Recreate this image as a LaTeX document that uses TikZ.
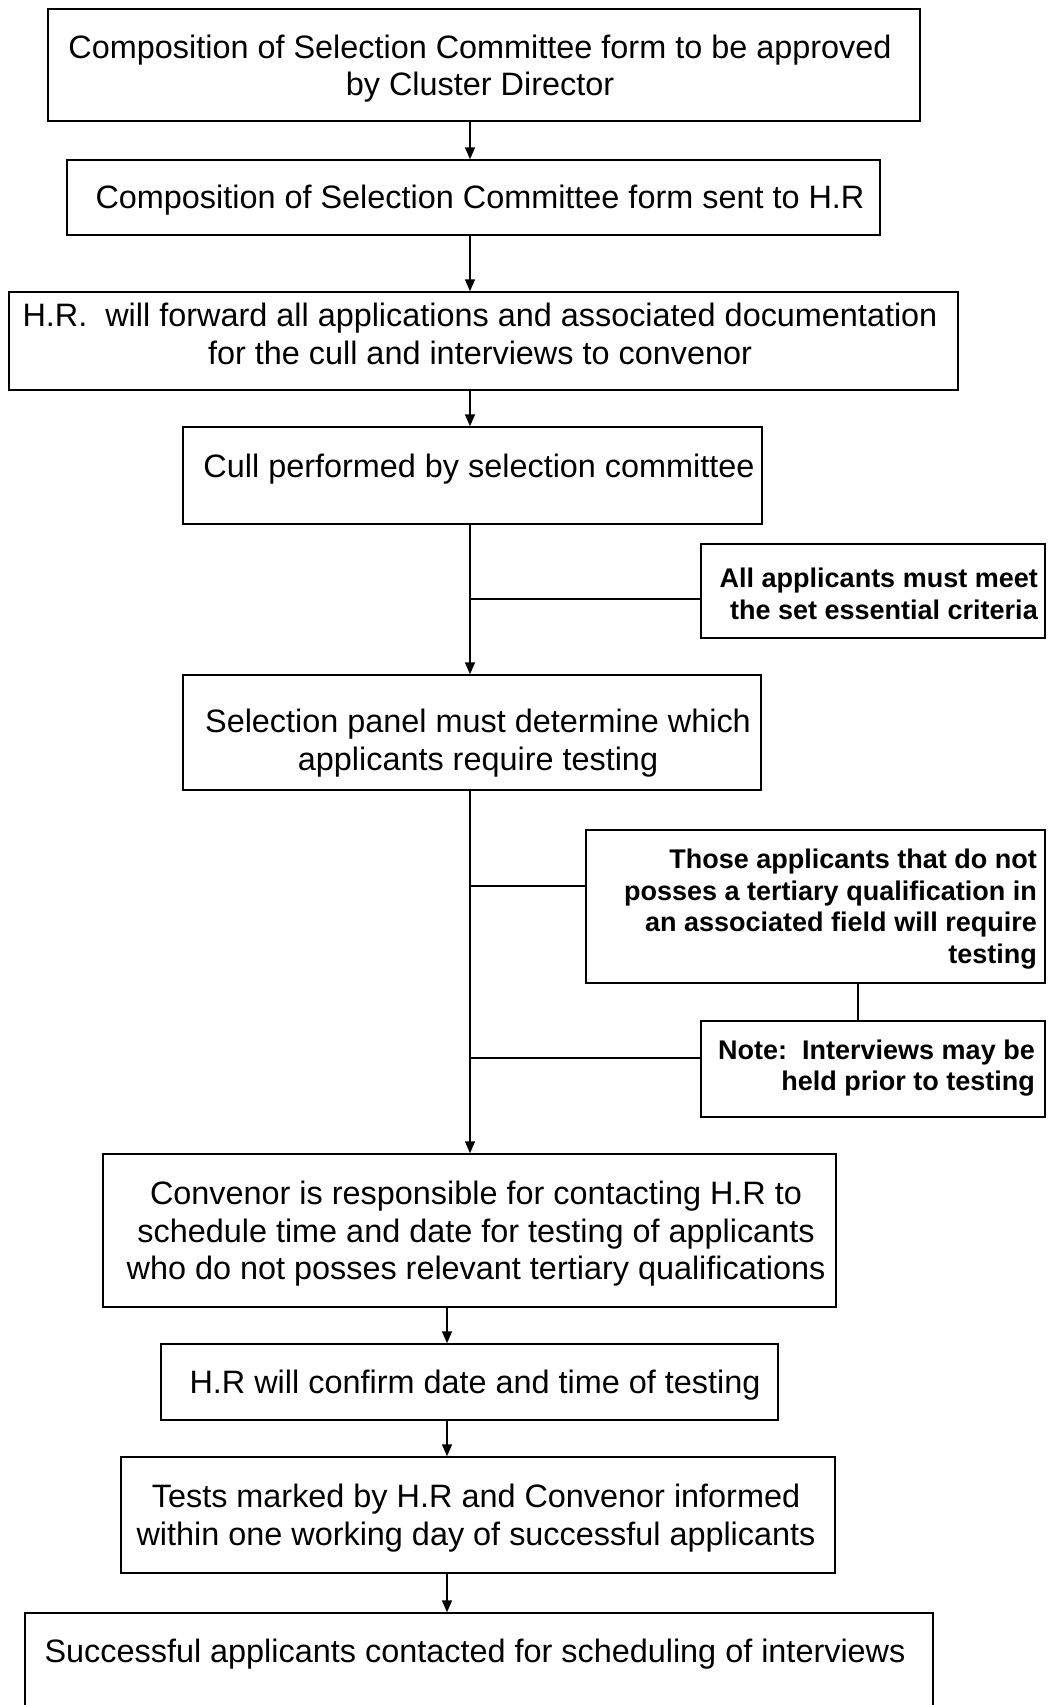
\documentclass[tikz,border=0pt]{standalone}
\usepackage{fontspec}
\setmainfont{Liberation Sans}
\usetikzlibrary{arrows.meta}
\begin{document}
\begin{tikzpicture}[x=1pt,y=-1pt,
  box/.style={draw, line width=1.5pt, inner sep=0pt},
  main/.style={font=\fontsize{32.4}{37.5}\selectfont, align=center, inner sep=0pt},
  side/.style={font=\fontsize{27}{31.5}\selectfont\bfseries, align=right, inner sep=0pt, anchor=east},
  flow/.style={line width=1.5pt, -{Triangle[length=12pt,width=10pt]}},
  link/.style={line width=1.5pt}]
\useasboundingbox (0,0) rectangle (1047,1705);
\clip (0,0) rectangle (1047,1705);
\coordinate (sp) at (470,0);
\coordinate (sp2) at (447,0);
\coordinate (vx) at (858,0);
% main boxes
\node[box, minimum width=872pt, minimum height=112pt] (b1) at (484,65) {};
\node[box, minimum width=813pt, minimum height=75pt] (b2) at (473.5,197.5) {};
\node[box, minimum width=949pt, minimum height=98pt] (b3) at (483.5,341) {};
\node[box, minimum width=579pt, minimum height=97pt] (b4) at (472.5,475.5) {};
\node[box, minimum width=578pt, minimum height=115pt] (b5) at (472,732.5) {};
\node[box, minimum width=733pt, minimum height=153pt] (b6) at (469.5,1230.5) {};
\node[box, minimum width=617pt, minimum height=76pt] (b7) at (469.5,1382) {};
\node[box, minimum width=714pt, minimum height=116pt] (b8) at (478,1515) {};
\node[box, minimum width=908pt, minimum height=147pt] (b9) at (479,1686.5) {};
% side boxes
\node[box, minimum width=344pt, minimum height=94pt] (sA) at (873,591) {};
\node[box, minimum width=459pt, minimum height=153pt] (sB) at (815.5,906.5) {};
\node[box, minimum width=344pt, minimum height=96pt] (sC) at (873,1069) {};
% texts
\node[main] (t1) at (480,68.5) {Composition of Selection Committee form to be approved\\by Cluster Director};
\node[main] (t2) at (480,200) {Composition of Selection Committee form sent to H.R};
\node[main] (t3) at (480,334) {H.R.\ \ will forward all applications and associated documentation\\for the cull and interviews to convenor};
\node[main] (t4) at (479,469) {Cull performed by selection committee};
\node[main] (t5) at (478,743) {Selection panel must determine which\\applicants require testing};
\node[main] (t6) at (476,1234) {Convenor is responsible for contacting H.R to\\schedule time and date for testing of applicants\\who do not posses relevant tertiary qualifications};
\node[main] (t7) at (475,1385) {H.R will confirm date and time of testing};
\node[main] (t8) at (476,1518) {Tests marked by H.R and Convenor informed\\within one working day of successful applicants};
\node[main] (t9) at (475,1654) {Successful applicants contacted for scheduling of interviews};
\node[side] (tA) at (1038,594) {All applicants must meet\\the set essential criteria};
\node[side] (tB) at (1037,909) {Those applicants that do not\\posses a tertiary qualification in\\an associated field will require\\testing};
\node[side] (tC) at (1035,1068) {Note:\ \ Interviews may be\\held prior to testing};
% connectors
\draw[flow] (b1.south -| sp) -- (b2.north -| sp);
\draw[flow] (b2.south -| sp) -- (b3.north -| sp);
\draw[flow] (b3.south -| sp) -- (b4.north -| sp);
\draw[flow] (b4.south -| sp) -- (b5.north -| sp);
\draw[link] ([yshift=-8pt]sA.west) -- ([yshift=-8pt]sA.west -| sp);
\draw[flow] (b5.south -| sp) -- (b6.north -| sp);
\draw[link] ([yshift=20.5pt]sB.west) -- ([yshift=20.5pt]sB.west -| sp);
\draw[link] (sB.south -| vx) -- (sC.north -| vx);
\draw[link] ([yshift=11pt]sC.west) -- ([yshift=11pt]sC.west -| sp);
\draw[flow] (b6.south -| sp2) -- (b7.north -| sp2);
\draw[flow] (b7.south -| sp2) -- (b8.north -| sp2);
\draw[flow] (b8.south -| sp2) -- (b9.north -| sp2);
\end{tikzpicture}
\end{document}
